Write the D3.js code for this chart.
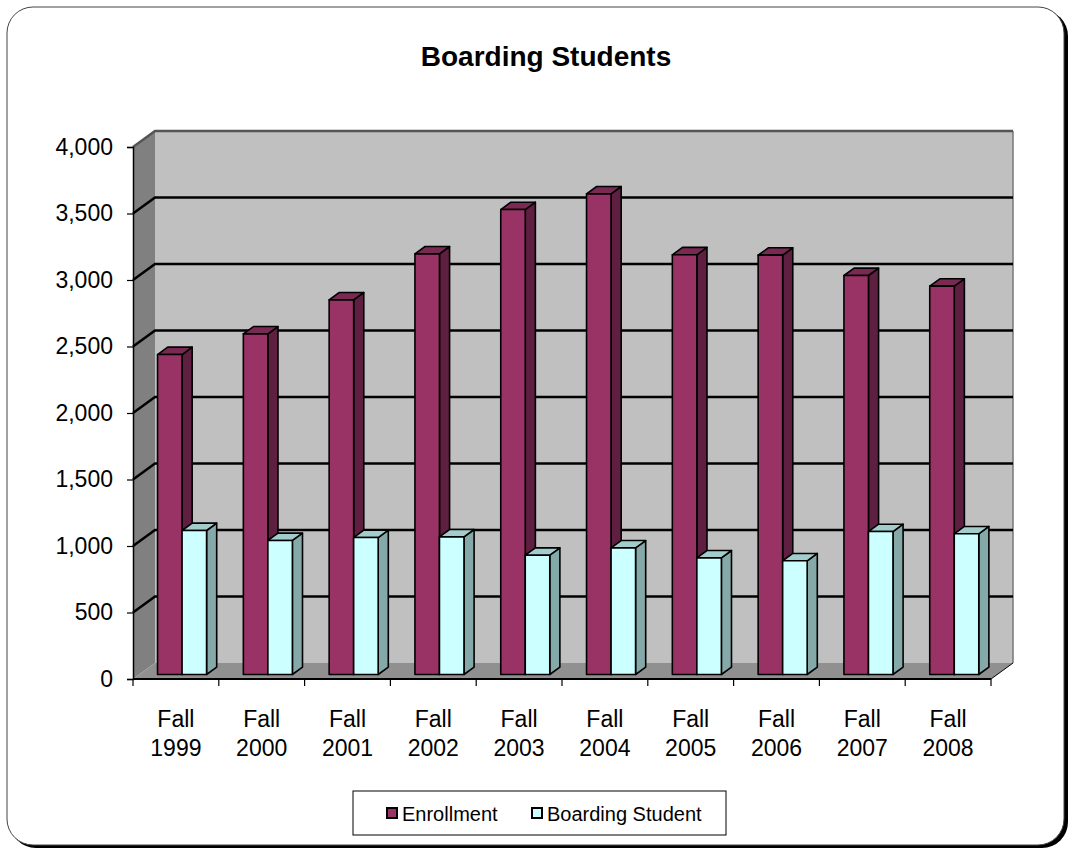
<!DOCTYPE html>
<html>
<head>
<meta charset="utf-8">
<script src="https://cdn.jsdelivr.net/npm/d3@7"></script>
<style>
  body { margin: 0; background: #fff; }
  svg { display: block; font-family: Arial, "Liberation Sans", sans-serif; }
</style>
</head>
<body>
<svg id="chart"></svg>
<script>
const years = ['1999', '2000', '2001', '2002', '2003', '2004', '2005', '2006', '2007', '2008'];
const seriesNames = ['Enrollment', 'Boarding Student'];
const enrollment = [2406, 2561, 2817, 3163, 3496, 3614, 3156, 3153, 3000, 2920];
const boarding = [1083, 1008, 1030, 1035, 897, 952, 877, 855, 1075, 1058];
const yTicks = [0, 500, 1000, 1500, 2000, 2500, 3000, 3500, 4000];

const width = 1070;
const height = 850;
const plot = { left: 133, right: 991, top: 147, bottom: 679 };
const depth = { dx: 22, dy: 16 };
const barDepth = { front: 0.28, back: 0.74 };

const colors = {
  'Enrollment': { front: '#993366', side: '#5e1f40', top: '#7a2952' },
  'Boarding Student': { front: '#ccffff', side: '#85a8a8', top: '#a3cccc' }
};

// project a front-plane point back by depth fraction d
const p = (x, y, d) => [x + d * depth.dx, y - d * depth.dy];
const poly = pts => pts.map(q => q.join(',')).join(' ');

const svg = d3.select('#chart').attr('width', width).attr('height', height);

// outer frame with shadow
svg.append('rect')
  .attr('x', 10).attr('y', 10).attr('width', 1058).attr('height', 838)
  .attr('rx', 26).attr('fill', '#000');
svg.append('rect')
  .attr('x', 7).attr('y', 7).attr('width', 1057).attr('height', 838)
  .attr('rx', 26).attr('fill', '#fff').attr('stroke', '#444').attr('stroke-width', 1);

svg.append('text')
  .attr('x', 546).attr('y', 66)
  .attr('text-anchor', 'middle')
  .attr('font-size', 28).attr('font-weight', 'bold')
  .text('Boarding Students');

const y = d3.scaleLinear().domain([0, 4000]).range([plot.bottom, plot.top]);
const x = d3.scaleBand().domain(years).range([plot.left, plot.right]);
const xs = d3.scaleBand().domain(seriesNames).range([0, x.bandwidth()]).paddingOuter(0.75);

const g = svg.append('g');

// walls and floor
g.append('polygon')
  .attr('points', poly([p(plot.left, plot.top, 1), p(plot.right, plot.top, 1), p(plot.right, plot.bottom, 1), p(plot.left, plot.bottom, 1)]))
  .attr('fill', '#c0c0c0');
g.append('polygon')
  .attr('points', poly([p(plot.left, plot.top, 0), p(plot.left, plot.top, 1), p(plot.left, plot.bottom, 1), p(plot.left, plot.bottom, 0)]))
  .attr('fill', '#808080');
g.append('polygon')
  .attr('points', poly([p(plot.left, plot.bottom, 0), p(plot.right, plot.bottom, 0), p(plot.right, plot.bottom, 1), p(plot.left, plot.bottom, 1)]))
  .attr('fill', '#909090');

// back wall right edge
g.append('polyline')
  .attr('points', poly([p(plot.right, plot.top, 1), p(plot.right, plot.bottom, 1)]))
  .attr('fill', 'none').attr('stroke', '#777').attr('stroke-width', 1.5);

// gridlines
yTicks.filter(t => t > 0).forEach(t => {
  const c = t === 4000 ? '#555' : '#000';
  g.append('polyline')
    .attr('points', poly([p(plot.left, y(t), 0), p(plot.left, y(t), 1), p(plot.right, y(t), 1)]))
    .attr('fill', 'none').attr('stroke', c).attr('stroke-width', 2.5);
});

// floor right edge
g.append('polyline')
  .attr('points', poly([p(plot.right, plot.bottom, 0), p(plot.right, plot.bottom, 1)]))
  .attr('fill', 'none').attr('stroke', '#000').attr('stroke-width', 1);

// bars
const rows = years.map((yr, i) => ({ year: yr, values: [enrollment[i], boarding[i]] }));
const bdx = (barDepth.back - barDepth.front) * depth.dx;
const bdy = (barDepth.back - barDepth.front) * depth.dy;

rows.forEach(row => {
  row.values.forEach((v, j) => {
    const name = seriesNames[j];
    const col = colors[name];
    const [x0, yb] = p(x(row.year) + xs(name), y(0), barDepth.front);
    const x1 = x0 + xs.bandwidth();
    const yt = yb - (y(0) - y(v));
    const bar = g.append('g').attr('stroke', '#000').attr('stroke-width', 1.6).attr('stroke-linejoin', 'round');
    bar.append('polygon')
      .attr('points', poly([[x1, yt], [x1 + bdx, yt - bdy], [x1 + bdx, yb - bdy], [x1, yb]]))
      .attr('fill', col.side);
    bar.append('polygon')
      .attr('points', poly([[x0, yt], [x0 + bdx, yt - bdy], [x1 + bdx, yt - bdy], [x1, yt]]))
      .attr('fill', col.top);
    bar.append('rect')
      .attr('x', x0).attr('y', yt)
      .attr('width', x1 - x0).attr('height', yb - yt)
      .attr('fill', col.front);
  });
});

// y axis
const yAxis = svg.append('g')
  .attr('transform', `translate(${plot.left},0)`)
  .call(d3.axisLeft(y).tickValues(yTicks).tickFormat(d3.format(',')).tickSize(6).tickPadding(14));
yAxis.select('.domain').attr('stroke', '#000').attr('stroke-width', 1.5);
yAxis.selectAll('.tick line').attr('stroke', '#000').attr('stroke-width', 1.2);
yAxis.selectAll('.tick text').attr('font-size', 23).attr('fill', '#000')
  .attr('font-family', 'Arial, "Liberation Sans", sans-serif');

// x axis
const xAxis = svg.append('g');
xAxis.append('line')
  .attr('x1', plot.left).attr('x2', plot.right)
  .attr('y1', plot.bottom).attr('y2', plot.bottom)
  .attr('stroke', '#000').attr('stroke-width', 2);
xAxis.selectAll('line.tick')
  .data(years.concat(['end']))
  .join('line')
  .attr('class', 'tick')
  .attr('x1', d => d === 'end' ? plot.right : x(d))
  .attr('x2', d => d === 'end' ? plot.right : x(d))
  .attr('y1', plot.bottom).attr('y2', plot.bottom + 7)
  .attr('stroke', '#000').attr('stroke-width', 1.2);
const lbl = xAxis.selectAll('text.cat')
  .data(years)
  .join('text')
  .attr('class', 'cat')
  .attr('text-anchor', 'middle')
  .attr('font-size', 23);
lbl.append('tspan')
  .attr('x', d => x(d) + x.bandwidth() / 2).attr('y', 727)
  .text('Fall');
lbl.append('tspan')
  .attr('x', d => x(d) + x.bandwidth() / 2).attr('y', 756)
  .text(d => d);

// legend
const legend = svg.append('g');
legend.append('rect')
  .attr('x', 353).attr('y', 791).attr('width', 373).attr('height', 44)
  .attr('fill', '#fff').attr('stroke', '#000').attr('stroke-width', 1);
const legendX = [387, 532];
seriesNames.forEach((name, i) => {
  legend.append('rect')
    .attr('x', legendX[i]).attr('y', 808).attr('width', 10).attr('height', 10)
    .attr('fill', colors[name].front).attr('stroke', '#000').attr('stroke-width', 2);
  legend.append('text')
    .attr('x', legendX[i] + 15).attr('y', 821)
    .attr('font-size', 20)
    .text(name);
});
</script>
</body>
</html>
